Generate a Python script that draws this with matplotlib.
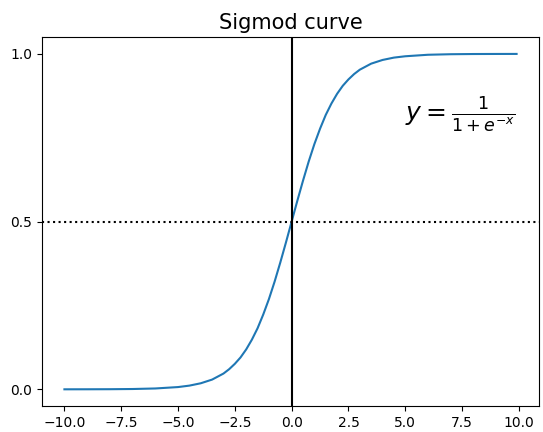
import numpy as np
import matplotlib.pyplot as plt

# Valores
x = [-10, -9, -8, -7, -6, -5, -4.5, -4, -3.5, -3, -2.75, -2.5, -2.25, -2, -1.75,
     -1.5, -1.25, -1, -0.75, -0.5, -0.25, 0, 0.25, 0.5, 0.75, 1, 1.25, 1.5,
     1.75, 2, 2.25, 2.5, 2.75, 3, 3.5, 4, 4.5, 5, 6, 7, 8, 9, 9.9]
y = [0.0000, 0.0001, 0.0003, 0.0009, 0.0025, 0.0067, 0.011, 0.018, 0.029, 0.047,
     0.060, 0.076, 0.095, 0.119, 0.148, 0.182, 0.223, 0.269, 0.321, 0.378,
     0.438, 0.500, 0.562, 0.622, 0.679, 0.731, 0.777, 0.818, 0.852, 0.881,
     0.905, 0.924, 0.940, 0.953, 0.971, 0.982, 0.989, 0.993, 0.9975, 0.9991,
     0.9997, 0.9999, 1.0000]
yticks = [0.0, 0.5, 1.0]

fig = plt.figure(figsize=(5.43, 4.32), dpi=100)
ax = fig.add_axes([0.077, 0.06, 0.916, 0.854])
ax.plot(x, y)
ax.axvline(0.0, color='k')
ax.axhline(0.5, color='k', ls=':')
ax.set_yticks(yticks)
ax.set_title('Sigmod curve', fontsize=15)
ax.text(5, 0.8, r'$y=\frac{1}{1+e^{-x}}$', fontsize=18)
fig.savefig('out.png', dpi=100)
